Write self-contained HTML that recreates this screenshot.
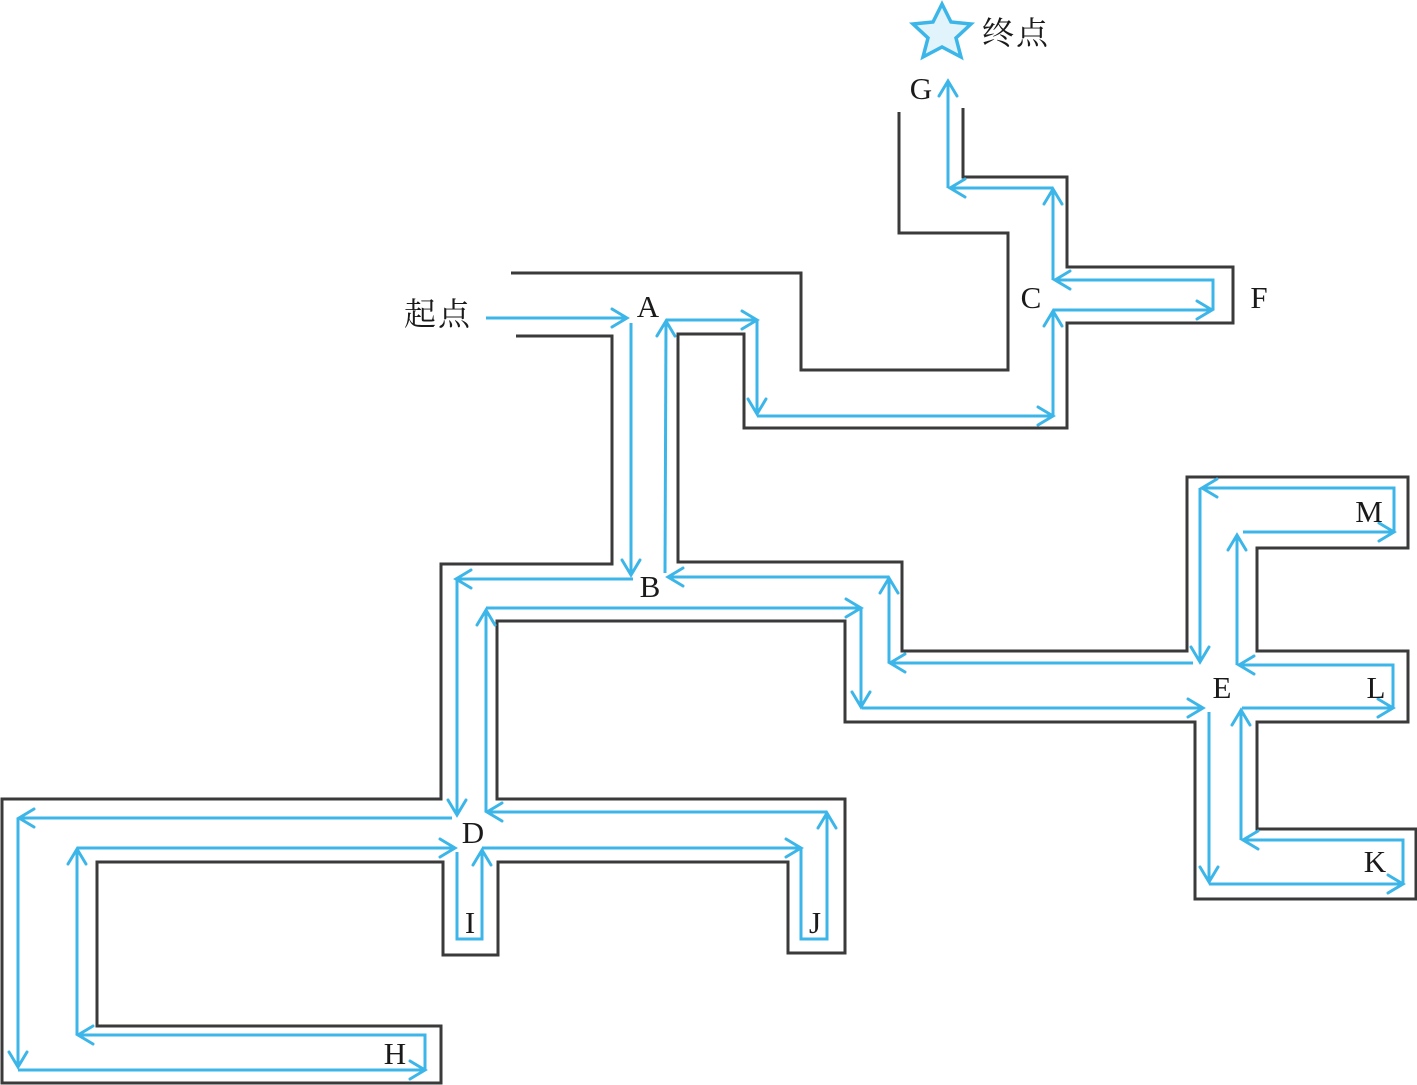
<!DOCTYPE html>
<html>
<head>
<meta charset="utf-8">
<style>
  html,body{margin:0;padding:0;background:#fff;}
  svg{display:block;}
</style>
</head>
<body>
<svg width="1417" height="1085" viewBox="0 0 1417 1085" xmlns="http://www.w3.org/2000/svg">
  <defs>
    <marker id="ah" markerUnits="userSpaceOnUse" markerWidth="40" markerHeight="40" refX="20" refY="20" orient="auto" viewBox="0 0 40 40">
      <path d="M5,11 L20,20 L5,29" fill="none" stroke="#3cb6e8" stroke-width="3" stroke-linecap="round" stroke-linejoin="miter"/>
    </marker>
  </defs>

  <!-- walls -->
  <g fill="none" stroke="#3a3a3a" stroke-width="3" stroke-linejoin="miter">
    <polyline points="516,336 612,336 612,564 441,564 441,799 2,799 2,1083 441,1083 441,1026 97,1026 97,862 443,862 443,955 498,955 498,862 788,862 788,953 845,953 845,799 497,799 497,621 845,621 845,722 1195,722 1195,899 1416,899 1416,829 1257,829 1257,722 1408,722 1408,651 1257,651 1257,548 1408,548 1408,477 1187,477 1187,651 902,651 902,562 678,562 678,334 744,334 744,428 1067,428 1067,323 1233,323 1233,267 1067,267 1067,177 963,177 963,108"/>
    <polyline points="511,273 801,273 801,370 1008,370 1008,233 899,233 899,112"/>
  </g>

  <!-- blue path -->
  <g fill="none" stroke="#3cb6e8" stroke-width="3" stroke-linejoin="miter" marker-end="url(#ah)">
    <polyline points="486,318 627,318"/>
    <polyline points="631,323 631,575"/>
    <polyline points="633,579 456,579"/>
    <polyline points="457,579 457,815"/>
    <polyline points="452,818 19,818"/>
    <polyline points="18,818 18,1067"/>
    <polyline points="18,1070 425,1070"/>
    <polyline points="425,1070 425,1035 78,1035"/>
    <polyline points="77,1035 77,849"/>
    <polyline points="77,848 455,848"/>
    <polyline points="457,852 457,939 482,939 482,850"/>
    <polyline points="482,848 801,848"/>
    <polyline points="801,848 801,939 827,939 827,813"/>
    <polyline points="827,812 487,812"/>
    <polyline points="486,812 486,610"/>
    <polyline points="486,608 861,608"/>
    <polyline points="861,608 861,707"/>
    <polyline points="862,708 1203,708"/>
    <polyline points="1209,712 1209,882"/>
    <polyline points="1209,884 1403,884"/>
    <polyline points="1403,884 1403,840 1243,840"/>
    <polyline points="1241,840 1241,710"/>
    <polyline points="1242,708 1393,708"/>
    <polyline points="1393,708 1393,665 1239,665"/>
    <polyline points="1237,665 1237,535"/>
    <polyline points="1243,532 1394,532"/>
    <polyline points="1394,532 1394,488 1202,488"/>
    <polyline points="1200,488 1200,662"/>
    <polyline points="1193,663 890,663"/>
    <polyline points="889,663 889,578"/>
    <polyline points="889,577 668,577"/>
    <polyline points="665,573 666,321"/>
    <polyline points="666,320 757,320"/>
    <polyline points="757,320 757,414"/>
    <polyline points="757,416 1053,416"/>
    <polyline points="1053,416 1053,311"/>
    <polyline points="1053,310 1212,310"/>
    <polyline points="1213,310 1213,280 1055,280"/>
    <polyline points="1053,280 1053,189"/>
    <polyline points="1053,188 950,188"/>
    <polyline points="948,188 948,81"/>
  </g>

  <!-- star -->
  <polygon points="942,4 951,22 971,24 956,38 961,57 942,47 923,57 928,38 913,24 933,22"
    fill="#e1f3fb" stroke="#3cb6e8" stroke-width="3.5" stroke-linejoin="miter"/>

  <!-- labels -->
  <g font-family="'Liberation Serif', serif" font-size="31" fill="#1a1a1a" text-anchor="middle">
    <text x="648" y="317">A</text>
    <text x="921" y="99">G</text>
    <text x="1031" y="308">C</text>
    <text x="1259" y="308">F</text>
    <text x="650" y="597">B</text>
    <text x="473" y="843">D</text>
    <text x="470" y="933">I</text>
    <text x="815" y="933">J</text>
    <text x="395" y="1064">H</text>
    <text x="1369" y="522">M</text>
    <text x="1222" y="698">E</text>
    <text x="1376" y="698">L</text>
    <text x="1375" y="872">K</text>
  </g>
  <g font-family="'Liberation Serif', 'Noto Serif CJK SC', 'Noto Sans CJK SC', serif" font-size="32" fill="#1a1a1a">
    <text x="404" y="325" letter-spacing="2">起点</text>
    <text x="982" y="44" letter-spacing="2">终点</text>
  </g>
</svg>
</body>
</html>
